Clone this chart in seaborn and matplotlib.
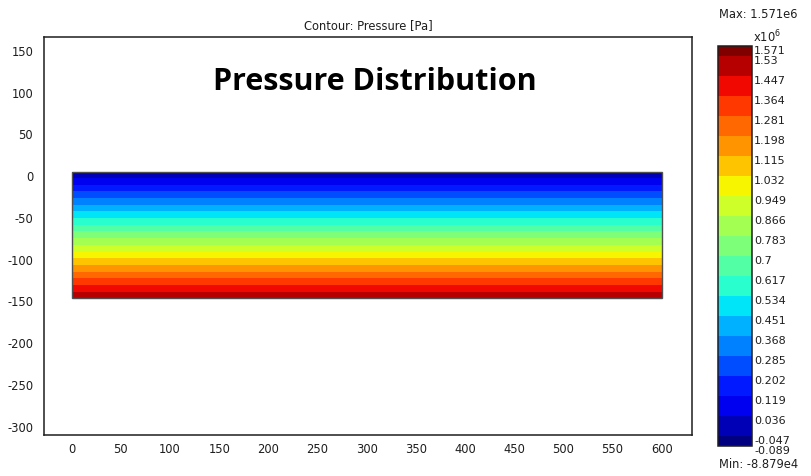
import numpy as np
import matplotlib
matplotlib.use("Agg")
import matplotlib.pyplot as plt
from matplotlib.colors import ListedColormap
from matplotlib.patches import Rectangle
from matplotlib.transforms import ScaledTranslation
import seaborn as sns

# Domain: channel cross-section, x in [0, 600], y in [-150, 0]
domain_x = [0, 600]
domain_y = [-150, 0]

# Pressure profile across the depth (top -> bottom), Pa
profile_y = [0, -150]
profile_p = [-0.035e6, 1.522e6]

# Field extremes reported by the solver
p_max = 1.571e6
p_min = -8.879e4

# Contour levels (x10^6 Pa)
levels = [-0.089, -0.047, 0.036, 0.119, 0.202, 0.285, 0.368, 0.451, 0.534,
          0.617, 0.7, 0.783, 0.866, 0.949, 1.032, 1.115, 1.198, 1.281,
          1.364, 1.447, 1.53, 1.571]

x_ticks = list(range(0, 601, 50))
y_ticks = list(range(-300, 151, 50))

sns.set_theme(style="white")
plt.rcParams["font.family"] = ["DejaVu Sans"]
plt.rcParams["axes.unicode_minus"] = False
plt.rcParams["axes.edgecolor"] = "#1e1e1e"
plt.rcParams["text.color"] = "#1e1e1e"
plt.rcParams["xtick.color"] = "#1e1e1e"
plt.rcParams["ytick.color"] = "#1e1e1e"

W, H = 811, 476
fig = plt.figure(figsize=(W / 100, H / 100), dpi=100)
ax = fig.add_axes([44.3 / W, 1 - 434.7 / H, (692.3 - 44.3) / W, (434.7 - 37.3) / H])
cax = fig.add_axes([718 / W, 1 - 446 / H, 34 / W, 400 / H])

# Build the field on the domain grid (pressure constant along x)
X, Y = np.meshgrid(domain_x, profile_y)
P = np.array([[p / 1e6] * len(domain_x) for p in profile_p])

n_bands = len(levels) - 1
band_colors = plt.get_cmap("jet")(np.linspace(0, 1, n_bands))
cmap = ListedColormap(band_colors)

cf = ax.contourf(X, Y, P, levels=levels, cmap=cmap, vmin=levels[0], vmax=levels[-1])
ax.add_patch(Rectangle((domain_x[0], domain_y[0]), domain_x[1] - domain_x[0],
                       domain_y[1] - domain_y[0], fill=False,
                       edgecolor="#505050", linewidth=1.0, zorder=3))

ax.set_xlim(-27.9, 631.1)
ax.set_ylim(-313.9, 161.5)
ax.set_xticks(x_ticks)
ax.set_yticks(y_ticks)
ax.tick_params(axis="both", length=0, labelsize=8.3)
ax.tick_params(axis="x", pad=6)
ax.tick_params(axis="y", pad=8)
for s in ax.spines.values():
    s.set_visible(True)
    s.set_linewidth(1.1)

shift = ScaledTranslation(0, -3.8 / 100, fig.dpi_scale_trans)
for lbl in ax.get_yticklabels():
    lbl.set_transform(lbl.get_transform() + shift)

ax.set_title("Contour: Pressure [Pa]", fontsize=8.3, pad=6)
ax.text(308.5, 98.4, "Pressure Distribution", ha="center", va="baseline",
        fontsize=22, fontweight="bold", family=["Open Sans", "DejaVu Sans"],
        color="black")

cbar = fig.colorbar(cf, cax=cax, ticks=levels, spacing="proportional")
cbar.outline.set_edgecolor("#1e1e1e")
cbar.outline.set_linewidth(1.1)
cax.set_yticklabels([f"{v:g}" for v in levels])
cax.tick_params(length=0, labelsize=8.0, pad=1.5)
for lbl in cax.get_yticklabels():
    lbl.set_transform(lbl.get_transform() + shift)


def sci(v):
    mant, ex = f"{v:.3e}".split("e")
    return f"{mant}e{int(ex)}"


fig.text(753 / W, 1 - 37 / H, r"x10$^6$", fontsize=8.3, va="center", ha="left")
fig.text(719 / W, 1 - 14 / H, f"Max: {sci(p_max)}",
         fontsize=8.3, va="center", ha="left")
fig.text(719 / W, 1 - 464.7 / H, f"Min: {sci(p_min)}",
         fontsize=8.3, va="center", ha="left")

fig.savefig("out.png", dpi=100)
